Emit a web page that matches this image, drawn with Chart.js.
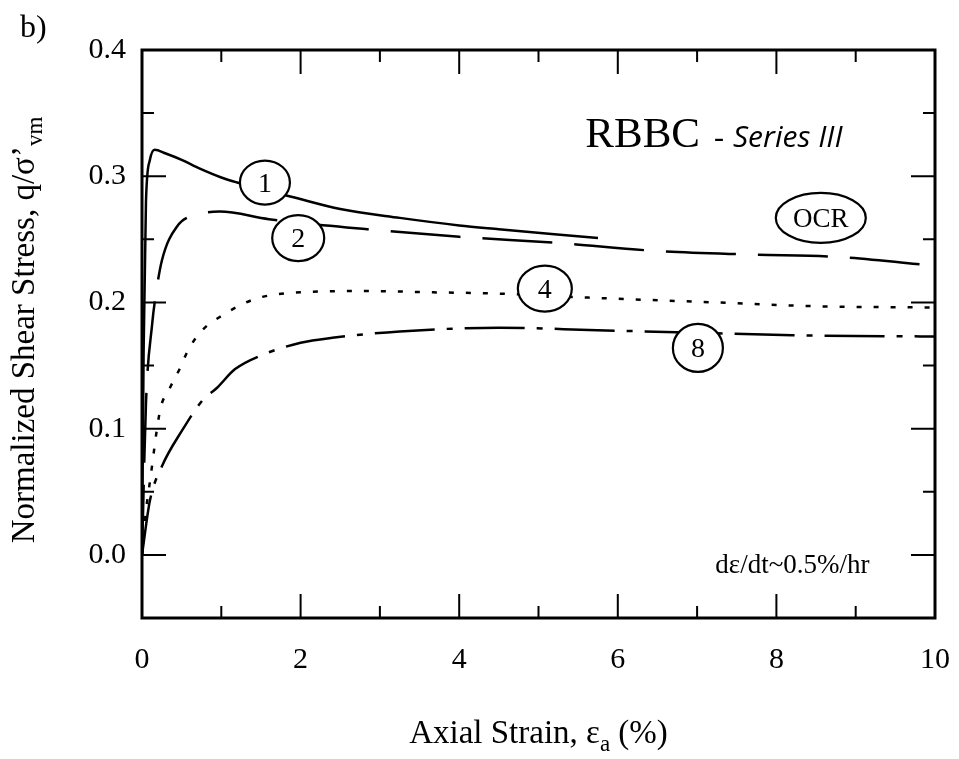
<!DOCTYPE html>
<html>
<head>
<meta charset="utf-8">
<script src="https://cdn.jsdelivr.net/npm/chart.js@4.4.1/dist/chart.umd.min.js"></script>
<style>
  body { margin: 0; background: #fff; }
  canvas { display: block; }
</style>
</head>
<body>
<canvas id="myChart" width="959" height="759"></canvas>
<script>
// OCR de cada ensaio (rótulos dos círculos)
const ocrValues = ['1', '2', '4', '8'];

// OCR = 1 (linha contínua)
const strain1 = [0, 0.02, 0.05, 0.1, 0.16, 0.3, 0.5, 0.73, 1.0, 1.2, 1.55, 1.87, 2.5, 3.25, 4.0, 4.5, 5.2, 5.75];
const stress1 = [0, 0.16, 0.28, 0.313, 0.321, 0.318, 0.313, 0.306, 0.299, 0.295, 0.289, 0.284, 0.274, 0.267, 0.261, 0.258, 0.254, 0.251];

// OCR = 2 (tracejado longo)
const strain2 = [0, 0.05, 0.13, 0.16, 0.25, 0.44, 0.73, 0.98, 1.6, 2.84, 4.0, 5.27, 6.44, 7.64, 8.8, 10];
const stress2 = [0, 0.12, 0.184, 0.2, 0.233, 0.26, 0.27, 0.272, 0.266, 0.258, 0.252, 0.247, 0.241, 0.238, 0.236, 0.229];

// OCR = 4 (pontilhado)
const strain4 = [0, 0.05, 0.1, 0.23, 0.35, 0.48, 0.58, 0.76, 1.02, 1.28, 1.49, 2.0, 2.84, 3.67, 4.5, 5.56, 7.25, 8.5, 10];
const stress4 = [0, 0.035, 0.058, 0.115, 0.132, 0.148, 0.162, 0.178, 0.19, 0.199, 0.204, 0.208, 0.209, 0.208, 0.207, 0.204, 0.2, 0.197, 0.196];

// OCR = 8 (traço-ponto)
const strain8 = [0, 0.1, 0.25, 0.5, 0.77, 0.94, 1.17, 1.5, 2.0, 2.4, 3.25, 4.5, 5.74, 7.0, 8.2, 10];
const stress8 = [0, 0.043, 0.07, 0.098, 0.123, 0.132, 0.147, 0.158, 0.168, 0.172, 0.177, 0.18, 0.178, 0.176, 0.174, 0.173];

// Rótulos dos eixos
const xTickLabels = [0, 2, 4, 6, 8, 10];
const yTickLabels = [0.0, 0.1, 0.2, 0.3, 0.4];

const serif = "'Liberation Serif', 'Times New Roman', serif";

function toPoints(xs, ys) {
    return xs.map(function (x, i) { return { x: x, y: ys[i] }; });
}

function isLabel(list, v) {
    return list.some(function (t) { return Math.abs(t - v) < 1e-6; });
}

// Posições dos círculos com o OCR (em coordenadas dos dados)
const circleSpots = [
    { x: 1.55, y: 0.295, rx: 25, ry: 22 },
    { x: 1.97, y: 0.251, rx: 26, ry: 23 },
    { x: 5.08, y: 0.211, rx: 27, ry: 23 },
    { x: 7.01, y: 0.164, rx: 25, ry: 24 }
];

// Plugin para moldura, ticks internos, círculos e textos
const decorations = {
    id: 'decorations',
    beforeDraw: function (chart) {
        const ctx = chart.ctx;
        ctx.save();
        ctx.fillStyle = '#fff';
        ctx.fillRect(0, 0, chart.width, chart.height);
        ctx.restore();
    },
    afterDatasetsDraw: function (chart) {
        const ctx = chart.ctx;
        const xs = chart.scales.x;
        const ys = chart.scales.y;
        const a = chart.chartArea;

        ctx.save();
        ctx.strokeStyle = '#000';
        ctx.lineWidth = 2;
        ctx.lineCap = 'butt';

        // ticks do eixo x (baixo e topo)
        xs.ticks.forEach(function (t) {
            if (t.value <= xs.min || t.value >= xs.max) return;
            const px = xs.getPixelForValue(t.value);
            const len = isLabel(xTickLabels, t.value) ? 24 : 12;
            ctx.beginPath();
            ctx.moveTo(px, a.bottom); ctx.lineTo(px, a.bottom - len);
            ctx.moveTo(px, a.top); ctx.lineTo(px, a.top + len);
            ctx.stroke();
        });

        // ticks do eixo y (esquerda e direita)
        ys.ticks.forEach(function (t) {
            if (t.value <= ys.min + 1e-9 || t.value >= ys.max - 1e-9) return;
            const py = ys.getPixelForValue(t.value);
            const len = isLabel(yTickLabels, t.value) ? 24 : 12;
            ctx.beginPath();
            ctx.moveTo(a.left, py); ctx.lineTo(a.left + len, py);
            ctx.moveTo(a.right, py); ctx.lineTo(a.right - len, py);
            ctx.stroke();
        });

        // moldura
        ctx.lineWidth = 3;
        ctx.strokeRect(a.left, a.top, a.right - a.left, a.bottom - a.top);

        // círculos com o OCR
        ctx.lineWidth = 2.2;
        ctx.font = '28px ' + serif;
        ctx.textAlign = 'center';
        ctx.textBaseline = 'middle';
        circleSpots.forEach(function (c, i) {
            const cx = xs.getPixelForValue(c.x);
            const cy = ys.getPixelForValue(c.y);
            ctx.beginPath();
            ctx.ellipse(cx, cy, c.rx, c.ry, 0, 0, Math.PI * 2);
            ctx.fillStyle = '#fff';
            ctx.fill();
            ctx.stroke();
            ctx.fillStyle = '#000';
            ctx.fillText(ocrValues[i], cx, cy + 2);
        });

        // elipse "OCR"
        const ox = xs.getPixelForValue(8.56);
        const oy = ys.getPixelForValue(0.267);
        ctx.beginPath();
        ctx.ellipse(ox, oy, 45, 25, 0, 0, Math.PI * 2);
        ctx.stroke();
        ctx.font = '27px ' + serif;
        ctx.fillText('OCR', ox, oy + 2);

        // título interno
        ctx.textAlign = 'left';
        ctx.textBaseline = 'alphabetic';
        let tx = xs.getPixelForValue(5.59);
        const ty = ys.getPixelForValue(0.323);
        ctx.font = '43px ' + serif;
        ctx.fillText('RBBC', tx, ty);
        tx += ctx.measureText('RBBC').width + 14;
        ctx.font = '30px ' + serif;
        ctx.fillText('-', tx, ty);
        tx += ctx.measureText('-').width + 9;
        ctx.font = "italic 30px 'Open Sans', sans-serif";
        ctx.fillText('Series III', tx, ty);

        // taxa de deformação
        ctx.font = '27px ' + serif;
        ctx.fillText('d\u03b5/dt~0.5%/hr', xs.getPixelForValue(7.23), ys.getPixelForValue(-0.014));
        ctx.restore();
    },
    afterDraw: function (chart) {
        const ctx = chart.ctx;
        const a = chart.chartArea;
        ctx.save();
        ctx.fillStyle = '#000';
        ctx.textBaseline = 'alphabetic';
        ctx.textAlign = 'left';

        // "b)"
        ctx.font = '32px ' + serif;
        ctx.fillText('b)', 20, 37);

        // título do eixo x com subscrito
        const big = '33px ' + serif;
        const small = '23px ' + serif;
        ctx.font = big;
        const p1 = 'Axial Strain, \u03b5';
        const p3 = ' (%)';
        const w1 = ctx.measureText(p1).width;
        const w3 = ctx.measureText(p3).width;
        ctx.font = small;
        const w2 = ctx.measureText('a').width;
        let x = (a.left + a.right) / 2 - (w1 + w2 + w3) / 2;
        const yb = 743;
        ctx.font = big; ctx.fillText(p1, x, yb); x += w1;
        ctx.font = small; ctx.fillText('a', x, yb + 8); x += w2;
        ctx.font = big; ctx.fillText(p3, x, yb);

        // título do eixo y com subscrito
        ctx.translate(34, (a.top + a.bottom) / 2 - 4);
        ctx.rotate(-Math.PI / 2);
        ctx.font = big;
        const q1 = 'Normalized Shear Stress, q/\u03c3\u2019';
        const v1 = ctx.measureText(q1).width;
        ctx.font = small;
        const v2 = ctx.measureText('vm').width;
        let s = -(v1 + v2) / 2;
        ctx.font = big; ctx.fillText(q1, s, 0); s += v1;
        ctx.font = small; ctx.fillText('vm', s, 8);
        ctx.restore();
    }
};

const ctx = document.getElementById('myChart').getContext('2d');
const lineBase = { showLine: true, fill: false, pointRadius: 0, borderColor: '#000', borderWidth: 2.5, cubicInterpolationMode: 'monotone' };

const myChart = new Chart(ctx, {
    type: 'scatter',
    data: {
        datasets: [
            Object.assign({ label: 'OCR 1', data: toPoints(strain1, stress1) }, lineBase),
            Object.assign({ label: 'OCR 2', data: toPoints(strain2, stress2), borderDash: [70, 22], borderDashOffset: 0 }, lineBase),
            Object.assign({ label: 'OCR 4', data: toPoints(strain4, stress4), borderDash: [5, 12] }, lineBase),
            Object.assign({ label: 'OCR 8', data: toPoints(strain8, stress8), borderDash: [60, 12, 6, 12] }, lineBase)
        ]
    },
    options: {
        responsive: false,
        animation: false,
        layout: { padding: { top: 50, right: 24, left: 0, bottom: 0 } },
        plugins: {
            legend: { display: false },
            tooltip: { enabled: false }
        },
        scales: {
            x: {
                type: 'linear',
                min: 0,
                max: 10,
                grid: { display: false, drawTicks: false },
                border: { display: false },
                afterFit: function (scale) {
                    scale.height = 141;
                    scale.paddingLeft = 0;
                    scale.paddingRight = 0;
                },
                ticks: {
                    stepSize: 1,
                    padding: 24,
                    color: '#000',
                    font: { family: serif, size: 30 },
                    maxRotation: 0,
                    callback: function (v) { return isLabel(xTickLabels, v) ? String(v) : ''; }
                }
            },
            y: {
                type: 'linear',
                min: -0.05,
                max: 0.4,
                grid: { display: false, drawTicks: false },
                border: { display: false },
                afterFit: function (scale) {
                    scale.width = 142;
                    scale.paddingTop = 0;
                    scale.paddingBottom = 0;
                },
                ticks: {
                    stepSize: 0.05,
                    padding: 16,
                    color: '#000',
                    font: { family: serif, size: 30 },
                    callback: function (v) { return isLabel(yTickLabels, v) ? v.toFixed(1) : ''; }
                }
            }
        }
    },
    plugins: [decorations]
});
</script>
</body>
</html>
